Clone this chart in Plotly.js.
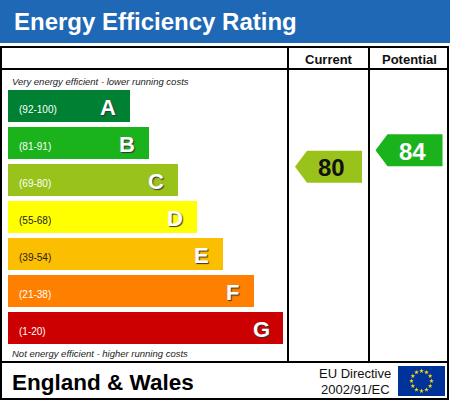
<!DOCTYPE html>
<html>
<head>
<meta charset="utf-8">
<script src="https://cdn.plot.ly/plotly-3.0.1.min.js"></script>
<style>html,body{margin:0;padding:0;background:#fff}#chart{width:450px;height:402px}</style>
</head>
<body>
<div id="chart"></div>
<script>
// ---- data ----
const bands = ['A', 'B', 'C', 'D', 'E', 'F', 'G'];
const rangeLabels = ['(92-100)', '(81-91)', '(69-80)', '(55-68)', '(39-54)', '(21-38)', '(1-20)'];
const rangeLow = [92, 81, 69, 55, 39, 21, 1];
const rangeHigh = [100, 91, 80, 68, 54, 38, 20];
const columnHeaders = ['Current', 'Potential'];
const ratings = [80, 84];
const title = 'Energy Efficiency Rating';
const topNote = 'Very energy efficient - lower running costs';
const bottomNote = 'Not energy efficient - higher running costs';
const region = 'England & Wales';
const directive = ['EU Directive', '2002/91/EC'];

// ---- styles / geometry ----
const bandColors = ['#008033', '#1bb31b', '#99c31a', '#ffff00', '#fbbe00', '#ff7f00', '#cc0000'];
const rangeTextColors = ['#fff', '#fff', '#fff', '#222', '#222', '#fff', '#fff'];
const barLengths = [122, 141, 170, 189, 215, 246, 275];
const barLeft = 8, barTop = 90, barPitch = 37, barH = 32;
const colCenters = [328.5, 409];
const arrowW = 67, arrowTip = 12;
const FONT = '"Liberation Sans", Arial, sans-serif';

const centers = bands.map((b, i) => barTop + barH / 2 + i * barPitch);

const traces = [];
traces.push({
  type: 'bar', orientation: 'h',
  y: centers, x: barLengths, base: barLeft, width: barH,
  marker: {color: bandColors, line: {width: 0}},
  hoverinfo: 'skip', showlegend: false
});

const annotations = [];
const ann = (o) => annotations.push(Object.assign({xref: 'x', yref: 'y', showarrow: false}, o));

bands.forEach((b, i) => {
  ann({x: barLeft + 9, y: centers[i] + 3, text: rangeLabels[i], xanchor: 'left', yanchor: 'middle',
       font: {family: FONT, size: 10, color: rangeTextColors[i]}});
  ann({x: barLeft + barLengths[i] - 22, y: centers[i] + 1, text: '<b>' + b + '</b>', xanchor: 'center', yanchor: 'middle',
       font: {family: FONT, size: 22, color: '#fff', shadow: '1px 1px 1px #333'}});
});

function bandOf(v) { return rangeLow.findIndex((lo, i) => v >= lo && v <= rangeHigh[i]); }

ratings.forEach((v, k) => {
  const bi = bandOf(v);
  const bottom = barTop + bi * barPitch + barH;
  const yc = bottom - (v - rangeLow[bi]) / (rangeHigh[bi] - rangeLow[bi] + 1) * barH;
  const cx = colCenters[k];
  const l = cx - arrowW / 2, r = cx + arrowW / 2;
  traces.push({
    type: 'scatter', mode: 'lines', fill: 'toself',
    x: [l, l + arrowTip, r, r, l + arrowTip, l],
    y: [yc, yc - barH / 2, yc - barH / 2, yc + barH / 2, yc + barH / 2, yc],
    fillcolor: bandColors[bi], line: {width: 0, color: bandColors[bi]},
    hoverinfo: 'skip', showlegend: false
  });
  ann({x: cx + 3, y: yc + 1, text: '<b>' + v + '</b>', xanchor: 'center', yanchor: 'middle',
       font: {family: FONT, size: 24, color: bi === 2 || bi === 3 || bi === 4 ? '#111' : '#fff'}});
});

ann({x: 12, y: 21, text: '<b>' + title + '</b>', xanchor: 'left', yanchor: 'middle',
     font: {family: FONT, size: 24, color: '#fff'}});
columnHeaders.forEach((h, k) => ann({x: colCenters[k], y: 59, text: '<b>' + h + '</b>', xanchor: 'center', yanchor: 'middle',
     font: {family: FONT, size: 13, color: '#111'}}));
ann({x: 10, y: 81, text: '<i>' + topNote + '</i>', xanchor: 'left', yanchor: 'middle', font: {family: FONT, size: 9.5, color: '#222'}});
ann({x: 10, y: 353, text: '<i>' + bottomNote + '</i>', xanchor: 'left', yanchor: 'middle', font: {family: FONT, size: 9.5, color: '#222'}});
ann({x: 10, y: 382, text: '<b>' + region + '</b>', xanchor: 'left', yanchor: 'middle', font: {family: FONT, size: 22.5, color: '#000'}});
ann({x: 355, y: 373, text: directive[0], xanchor: 'center', yanchor: 'middle', font: {family: FONT, size: 13, color: '#111'}});
ann({x: 355, y: 389, text: directive[1], xanchor: 'center', yanchor: 'middle', font: {family: FONT, size: 13, color: '#111'}});

// EU flag stars (decoration)
const flag = {x0: 398, x1: 445, y0: 366, y1: 396};
const fcx = (flag.x0 + flag.x1) / 2, fcy = (flag.y0 + flag.y1) / 2;
const sx = [], sy = [];
for (let i = 0; i < 12; i++) { const a = i * Math.PI / 6; sx.push(fcx + 10 * Math.cos(a)); sy.push(fcy + 10 * Math.sin(a)); }
traces.push({type: 'scatter', mode: 'markers', x: sx, y: sy,
  marker: {symbol: 'star', size: 3.5, color: '#ffdd00', line: {width: 0}}, hoverinfo: 'skip', showlegend: false});

const L = (x0, y0, x1, y1) => ({type: 'line', xref: 'x', yref: 'y', x0, y0, x1, y1, line: {color: '#000', width: 2}, layer: 'above'});
const shapes = [
  {type: 'rect', xref: 'x', yref: 'y', x0: 0, x1: 450, y0: 0, y1: 43, fillcolor: '#1e68b5', line: {width: 0}, layer: 'below'},
  {type: 'rect', xref: 'x', yref: 'y', x0: 1, x1: 448, y0: 47, y1: 399, line: {color: '#000', width: 2}, fillcolor: 'rgba(0,0,0,0)', layer: 'above'},
  L(1, 69, 448, 69), L(1, 362, 448, 362), L(288, 47, 288, 362), L(369, 47, 369, 362),
  {type: 'rect', xref: 'x', yref: 'y', x0: flag.x0, x1: flag.x1, y0: flag.y0, y1: flag.y1, fillcolor: '#003399', line: {width: 0}, layer: 'below'}
];

const layout = {
  width: 450, height: 402,
  margin: {l: 0, r: 0, t: 0, b: 0, pad: 0},
  paper_bgcolor: '#fff', plot_bgcolor: '#fff',
  xaxis: {range: [0, 450], visible: false, fixedrange: true},
  yaxis: {range: [402, 0], visible: false, fixedrange: true},
  bargap: 0, showlegend: false,
  shapes, annotations
};
Plotly.newPlot('chart', traces, layout, {displayModeBar: false, staticPlot: true});
</script>
</body>
</html>
